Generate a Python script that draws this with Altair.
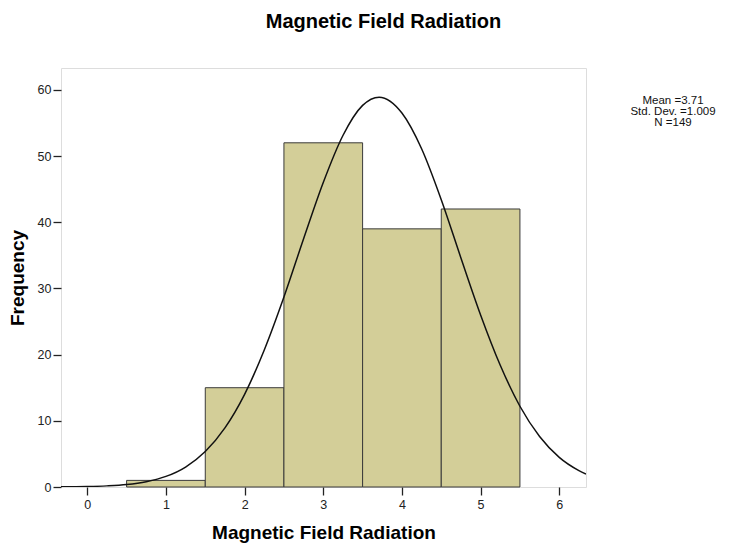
import altair as alt
import pandas as pd

# Histogram bins (edges) and counts
bin_start = [0.5, 1.5, 2.5, 3.5, 4.5]
bin_end = [1.5, 2.5, 3.5, 4.5, 5.5]
counts = [1, 15, 52, 39, 42]

# Normal curve
curve_x = [-0.334, 0.0, 0.25, 0.5, 0.75, 1.0, 1.25, 1.5, 1.75, 2.0, 2.25, 2.5, 2.75,
           3.0, 3.25, 3.5, 3.71, 4.0, 4.25, 4.5, 4.75, 5.0, 5.25, 5.5, 5.75, 6.0, 6.25, 6.34]
curve_y = [0.02, 0.07, 0.17, 0.37, 0.80, 1.60, 3.02, 5.36, 8.93, 14.0, 20.7, 28.7, 37.5,
           46.0, 53.1, 57.65, 58.9, 56.5, 51.1, 43.4, 34.6, 26.0, 18.4, 12.2, 7.63, 4.48, 2.48, 1.95]

stats_lines = ["Mean =3.71", "Std. Dev. =1.009", "N =149"]

bars_df = pd.DataFrame({"start": bin_start, "end": bin_end, "count": counts})
curve_df = pd.DataFrame({"x": curve_x, "y": curve_y})
stats_df = pd.DataFrame({"t": stats_lines, "i": [0, 1, 2]})

FONT = "Liberation Sans"
xscale = alt.Scale(domain=[-0.334, 6.34], nice=False, zero=False)
yscale = alt.Scale(domain=[0, 63.3], nice=False)

xaxis = alt.Axis(values=[0, 1, 2, 3, 4, 5, 6], format="d", grid=False, domain=False,
                 tickSize=8, tickColor="#222222", tickWidth=1.3, labelFontSize=12.5,
                 labelColor="#222222", labelFont=FONT, title="Magnetic Field Radiation",
                 titleFont=FONT, titleFontSize=19, titleFontWeight="bold",
                 titleColor="#000000", titlePadding=13, labelPadding=3)
yaxis = alt.Axis(values=[0, 10, 20, 30, 40, 50, 60], grid=False, domain=False,
                 tickSize=8, tickColor="#222222", tickWidth=1.3, labelFontSize=12.5,
                 labelColor="#222222", labelFont=FONT, title="Frequency", titleFont=FONT,
                 titleFontSize=19, titleFontWeight="bold", titleColor="#000000",
                 titlePadding=10, labelPadding=2)

bars = alt.Chart(bars_df).mark_rect(fill="#d3ce98", stroke="#3a3a3a", strokeWidth=1).encode(
    x=alt.X("start:Q", scale=xscale, axis=xaxis),
    x2="end:Q",
    y=alt.Y("count:Q", scale=yscale, axis=yaxis),
    y2=alt.datum(0),
)

curve = alt.Chart(curve_df).mark_line(color="#111111", strokeWidth=1.5,
                                      interpolate="monotone", clip=True).encode(
    x=alt.X("x:Q", scale=xscale),
    y=alt.Y("y:Q", scale=yscale, axis=None),
)

stats = alt.Chart(stats_df).transform_calculate(i="datum.i * 11").mark_text(
    font=FONT, fontSize=11.5, align="center", baseline="middle", color="#111111"
).encode(
    x=alt.value(612),
    y=alt.Y("i:Q", scale=alt.Scale(domain=[0, 419], range=[33, 452]), axis=None),
    text="t:N",
)

chart = alt.layer(bars, curve, stats).resolve_scale(y="independent").properties(
    width=525,
    height=419,
    autosize=alt.AutoSizeParams(type="none"),
    padding={"left": 53, "top": 60, "right": 136, "bottom": 57},
    title=alt.TitleParams("Magnetic Field Radiation", font=FONT, fontSize=20,
                          fontWeight="bold", color="#000000", anchor="middle",
                          dx=60, offset=36),
).configure_view(fill="#f0f0f0", stroke="#555555", strokeWidth=1.2
).configure(background="#ffffff")

chart.save("out.html", embed_options={"renderer": "svg", "actions": False})
